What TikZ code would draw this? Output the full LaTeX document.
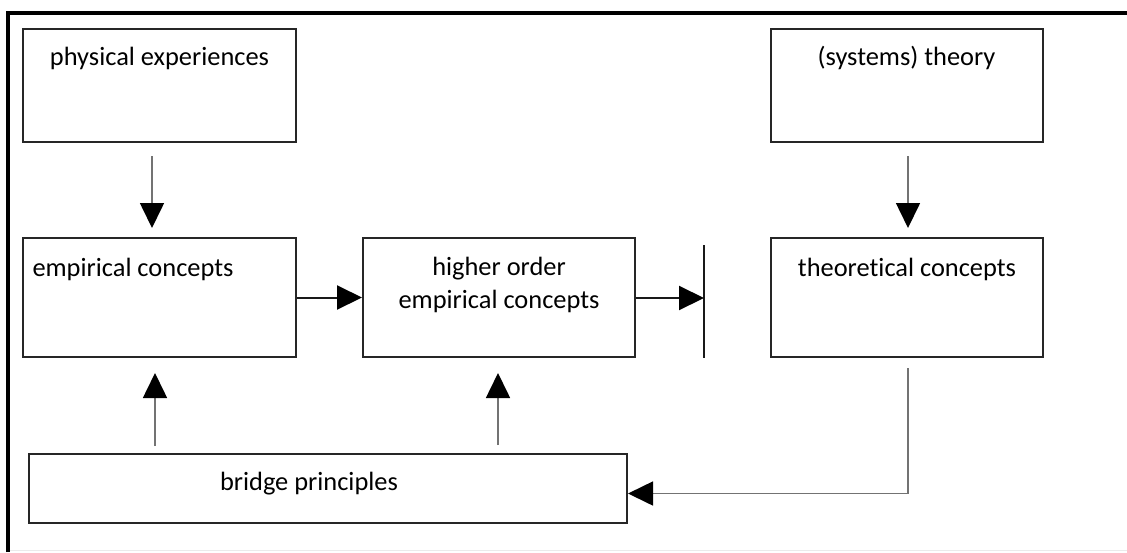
\documentclass[tikz,border=0pt]{standalone}
\usepackage{fontspec}
\setmainfont{Carlito}[Ligatures=NoCommon]
\usetikzlibrary{arrows.meta,calc}
\tikzset{
  lbl/.style={inner sep=0pt, font=\fontsize{13.2}{16.5}\selectfont, align=center, text=black},
  arr/.style={line width=0.8pt, -{Triangle[length=12.5pt,width=12pt,color=black]}},
  grayarr/.style={arr, draw=black!55},
  darkarr/.style={arr, line width=1pt, draw=black!90}
}
\begin{document}
\begin{tikzpicture}[x=0.5pt,y=-0.5pt]
\useasboundingbox (0,0) rectangle (1127,552);
% frame
\draw[line width=2pt, black] (8,552) -- (8,13) -- (1127,13);
\draw[black!8, line width=0.5pt] (10,550) -- (1127,550);
% boxes
\node[draw=black!85, line width=1pt, minimum width=136.5pt, minimum height=56.5pt, inner sep=0pt] (phys) at (159.5,85.5) {};
\node[draw=black!85, line width=1pt, minimum width=136pt, minimum height=56.5pt, inner sep=0pt] (theory) at (907,85.5) {};
\node[draw=black!85, line width=1pt, minimum width=136.5pt, minimum height=59.5pt, inner sep=0pt] (emp) at (159.5,297.5) {};
\node[draw=black!85, line width=1pt, minimum width=136pt, minimum height=59.5pt, inner sep=0pt] (high) at (499,297.5) {};
\node[draw=black!85, line width=1pt, minimum width=136pt, minimum height=59.5pt, inner sep=0pt] (theo) at (907,297.5) {};
\node[draw=black!85, line width=1pt, minimum width=299pt, minimum height=34.5pt, inner sep=0pt] (bridge) at (328,488.5) {};
% texts
\node[lbl] (tphys) at (159.5,58) {physical experiences};
\node[lbl] (ttheory) at (906.5,58) {(systems) theory};
\node[lbl] (temp) at (133,269) {empirical concepts};
\node[lbl] (thigh) at (499,284.5) {higher order\\empirical concepts};
\node[lbl] (ttheo) at (907,269) {theoretical concepts};
\node[lbl] (tbridge) at (309,484) {bridge principles};
% bar
\coordinate (bartop) at (704,245);
\coordinate (barbot) at (704,358);
\coordinate (bar) at (704,297.5);
\draw[line width=1pt, black!90] (bartop) -- (barbot);
% arrows
\draw[grayarr, shorten <=6.5pt, shorten >=4.5pt] ($(phys.south)+(-7.5,0)$) -- ($(emp.north)+(-7.5,0)$);
\draw[grayarr, shorten <=6.5pt, shorten >=4.5pt] ($(theory.south)+(1,0)$) -- ($(theo.north)+(1,0)$);
\draw[darkarr] (emp.east) -- (high.west);
\draw[darkarr] ($(high.east)+(0,0.5)$) -- ($(bar)+(0,0.5)$);
\draw[grayarr, shorten <=3.5pt, shorten >=7.5pt] ($(bridge.north)+(-173,0)$) -- ($(emp.south)+(-4.5,0)$);
\draw[grayarr, shorten <=4pt, shorten >=7.5pt] ($(bridge.north)+(170,0)$) -- ($(high.south)+(-1,0)$);
\draw[grayarr, shorten <=5pt] ($(theo.south)+(1,0)$) |- ($(bridge.east)+(0,5)$);
\end{tikzpicture}
\end{document}
